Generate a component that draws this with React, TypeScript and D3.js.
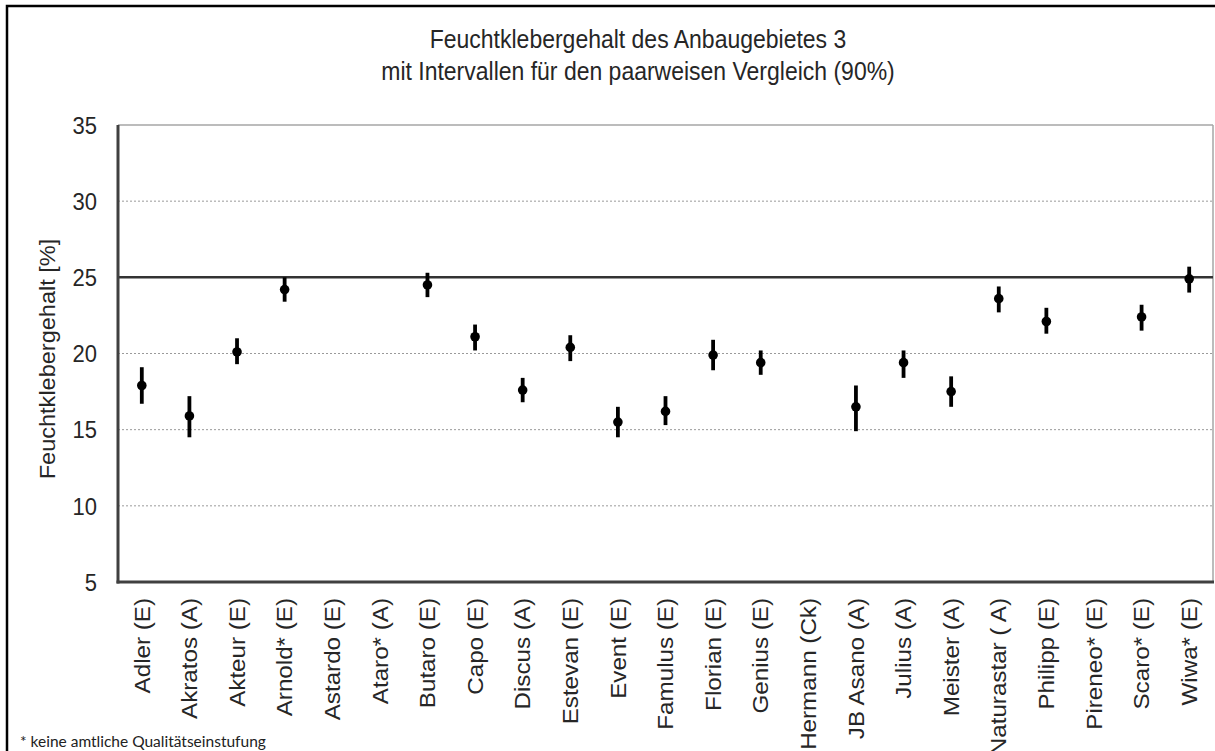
import React from "react";
import * as d3 from "d3";

const categories = [
  "Adler (E)", "Akratos (A)", "Akteur (E)", "Arnold* (E)", "Astardo (E)", "Ataro* (A)",
  "Butaro (E)", "Capo (E)", "Discus (A)", "Estevan (E)", "Event (E)", "Famulus (E)",
  "Florian (E)", "Genius (E)", "Hermann (Ck)", "JB Asano (A)", "Julius (A)", "Meister (A)",
  "Naturastar ( A)", "Philipp (E)", "Pireneo* (E)", "Scaro* (E)", "Wiwa* (E)",
];
const means: (number | null)[] = [
  17.9, 15.9, 20.1, 24.2, null, null, 24.5, 21.1, 17.6, 20.4, 15.5, 16.2,
  19.9, 19.4, null, 16.5, 19.4, 17.5, 23.6, 22.1, null, 22.4, 24.9,
];
const lowers: (number | null)[] = [
  16.7, 14.5, 19.3, 23.4, null, null, 23.7, 20.2, 16.8, 19.5, 14.5, 15.3,
  18.9, 18.6, null, 14.9, 18.4, 16.5, 22.7, 21.3, null, 21.5, 24.0,
];
const uppers: (number | null)[] = [
  19.1, 17.2, 21.0, 25.0, null, null, 25.3, 21.9, 18.4, 21.2, 16.5, 17.2,
  20.9, 20.2, null, 17.9, 20.2, 18.5, 24.4, 23.0, null, 23.2, 25.7,
];
const yTicks = [5, 10, 15, 20, 25, 30, 35];
const gridValues = [10, 15, 20, 25, 30];
const referenceValue = 25;
const titleLines = [
  "Feuchtklebergehalt des Anbaugebietes 3",
  "mit Intervallen für den paarweisen Vergleich (90%)",
];
const yLabel = "Feuchtklebergehalt [%]";
const footnote = "* keine amtliche Qualitätseinstufung";

export default function App() {
  const W = 1215, H = 751;
  const left = 118, right = 1213, top = 125, bottom = 582;
  const x = d3.scaleBand<string>().domain(categories).range([left, right]);
  const y = d3.scaleLinear().domain([5, 35]).range([bottom, top]);
  const font = "Arial, 'Liberation Sans', sans-serif";
  const cx = (c: string) => (x(c) as number) + x.bandwidth() / 2;
  const sy = 1.1;
  const textColor = "#262626";

  return (
    <svg width={W} height={H} style={{ position: "absolute", left: 0, top: 0, background: "#fff" }}>
      <rect x={0} y={0} width={W} height={H} fill="#fff" />
      {/* outer frame */}
      <rect x={7} y={6} width={W + 20} height={H + 20} fill="none" stroke="#000" strokeWidth={2.5} />
      {/* title */}
      {titleLines.map((t, i) => (
        <text
          key={i}
          transform={`translate(638,${48 + i * 32}) scale(1,${sy})`}
          textAnchor="middle"
          fontFamily={font}
          fontSize={23}
          fill={textColor}
        >
          {t}
        </text>
      ))}
      {/* grid */}
      {gridValues.map((v) => (
        <line key={v} x1={left} x2={right} y1={y(v)} y2={y(v)} stroke="#9a9a9a" strokeWidth={1} strokeDasharray="2,2" />
      ))}
      {/* plot border top/right */}
      <line x1={left} x2={right} y1={top} y2={top} stroke="#a6a6a6" strokeWidth={1.5} />
      <line x1={right} x2={right} y1={top} y2={bottom} stroke="#a6a6a6" strokeWidth={1.5} />
      {/* reference line */}
      <line x1={left} x2={right} y1={y(referenceValue)} y2={y(referenceValue)} stroke="#333" strokeWidth={2.5} />
      {/* axes */}
      <line x1={left} x2={left} y1={top} y2={bottom + 1.5} stroke="#404040" strokeWidth={3} />
      <line x1={left - 1.5} x2={right + 1} y1={bottom} y2={bottom} stroke="#404040" strokeWidth={3} />
      {/* y tick labels */}
      {yTicks.map((v) => (
        <text
          key={v}
          transform={`translate(97,${y(v)}) scale(1,${sy})`}
          dy="0.36em"
          textAnchor="end"
          fontFamily={font}
          fontSize={22}
          fill={textColor}
        >
          {v}
        </text>
      ))}
      {/* y label */}
      <text
        transform={`translate(47,359) scale(1,1.07) rotate(-90)`}
        textAnchor="middle"
        dy="0.35em"
        fontFamily={font}
        fontSize={22}
        fill={textColor}
      >
        {yLabel}
      </text>
      {/* category labels */}
      {categories.map((c) => (
        <text
          key={c}
          transform={`translate(${cx(c)},${bottom + 16}) scale(1,${sy}) rotate(-90)`}
          textAnchor="end"
          dy="0.35em"
          fontFamily={font}
          fontSize={22}
          fill={textColor}
        >
          {c}
        </text>
      ))}
      {/* error bars + points */}
      {categories.map((c, i) => {
        const m = means[i], lo = lowers[i], hi = uppers[i];
        if (m == null || lo == null || hi == null) return null;
        return (
          <g key={c}>
            <line x1={cx(c)} x2={cx(c)} y1={y(lo)} y2={y(hi)} stroke="#000" strokeWidth={3.8} />
            <circle cx={cx(c)} cy={y(m)} r={4.8} fill="#000" />
          </g>
        );
      })}
      {/* footnote */}
      <text x={20} y={747} fontFamily="Lato, 'Open Sans', sans-serif" fontSize={15.5} fill="#222">
        {footnote}
      </text>
    </svg>
  );
}
